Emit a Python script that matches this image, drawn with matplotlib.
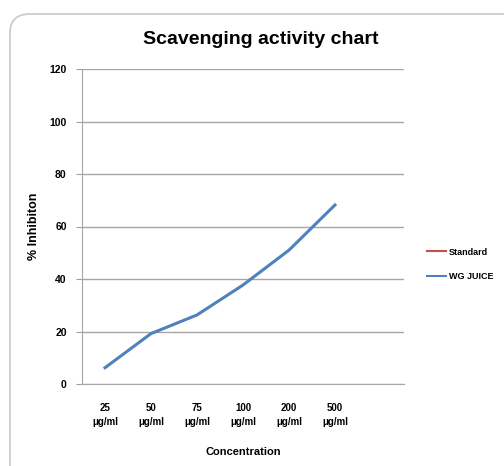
import matplotlib.pyplot as plt
from matplotlib.patches import FancyBboxPatch

# Dados
concentrations = ['25\nμg/ml', '50\nμg/ml', '75\nμg/ml', '100\nμg/ml', '200\nμg/ml', '500\nμg/ml']
wg_juice = [6.2, 19.2, 26.3, 37.7, 51.0, 68.2]
standard = []  # série sem valores visíveis
y_ticks = [0, 20, 40, 60, 80, 100, 120]

plt.rcParams['font.family'] = ['Liberation Sans', 'DejaVu Sans']

fig = plt.figure(figsize=(5.04, 4.66), dpi=100)

# Moldura arredondada do gráfico (Excel), parcialmente cortada
frame = FancyBboxPatch((10 / 504, -0.2), 1.2, 1.2 - 14 / 466,
                       boxstyle='round,pad=0,rounding_size=0.04',
                       transform=fig.transFigure, facecolor='white',
                       edgecolor='#c8c8c8', linewidth=1.2, zorder=-10)
fig.patches.append(frame)

ax = fig.add_axes([82 / 504, 1 - 384 / 466, 322 / 504, 315 / 466])
ax.set_zorder(5)
ax.set_facecolor('none')

x = list(range(len(concentrations)))
ax.plot(x[:len(standard)], standard, color='#c0504d', linewidth=2, label='Standard')
ax.plot(x, wg_juice, color='#4f81bd', linewidth=2.2, label='WG JUICE')

ax.set_xlim(-0.5, len(concentrations) + 0.5)
ax.set_ylim(0, 120)
ax.set_yticks(y_ticks)
ax.set_xticks(x)
ax.set_xticklabels(concentrations, fontsize=7, fontweight='bold', linespacing=1.5)
ax.tick_params(axis='y', labelsize=7.5, length=4, color='#a0a0a0', pad=7)
for lbl in ax.get_yticklabels():
    lbl.set_fontweight('bold')
ax.tick_params(axis='x', length=0, pad=14)

ax.grid(axis='y', color='#a6a6a6', linewidth=1)
ax.set_axisbelow(True)
for side in ['top', 'right']:
    ax.spines[side].set_visible(False)
ax.spines['left'].set_color('#a6a6a6')
ax.spines['bottom'].set_color('#a6a6a6')

fig.text(261 / 504, 1 - 40 / 466, 'Scavenging activity chart', fontsize=14,
         fontweight='bold', ha='center', va='center', stretch='condensed')
ax.set_ylabel('% Inhibiton', fontsize=9, fontweight='bold', labelpad=7)
ax.set_xlabel('Concentration', fontsize=8, fontweight='bold', labelpad=14)

leg = ax.legend(loc='center left', bbox_to_anchor=(1.045, 0.38), frameon=False,
                fontsize=6.5, handlelength=2.2, labelspacing=1.7, handletextpad=0.3)
for t in leg.get_texts():
    t.set_fontweight('bold')
for h in leg.get_lines():
    h.set_linewidth(1.5)

plt.savefig('out.png', dpi=100)
